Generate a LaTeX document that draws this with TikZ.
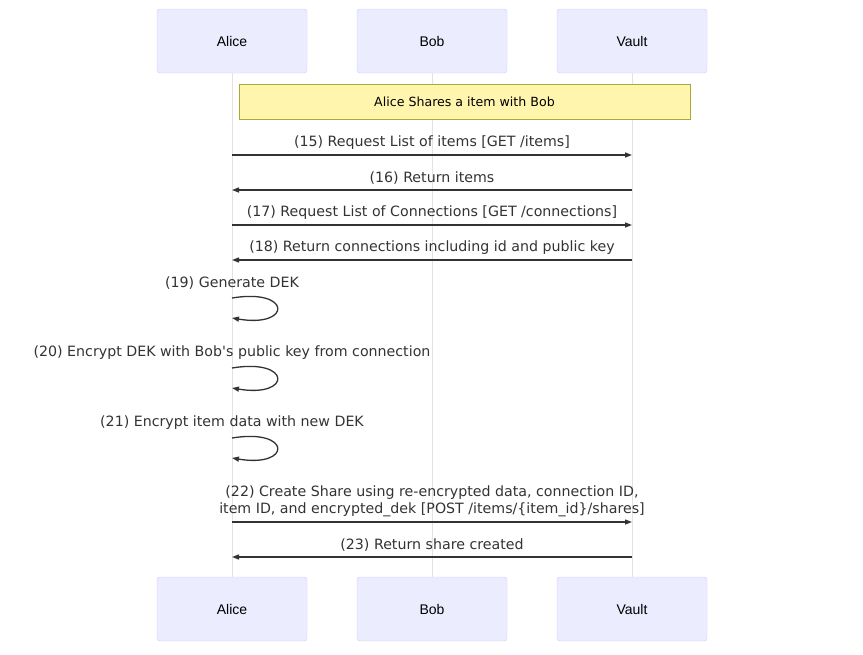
\documentclass[tikz,border=0pt]{standalone}
\usepackage{fontspec}
\setmainfont{DejaVu Sans}
\newfontfamily\actorfont{Liberation Sans}
\usetikzlibrary{arrows.meta}
\definecolor{actorfill}{HTML}{ECECFF}
\definecolor{actorline}{HTML}{CCCCFF}
\definecolor{notefill}{HTML}{FFF5AD}
\definecolor{noteline}{HTML}{AAAA33}
\definecolor{msgcol}{HTML}{333333}
\definecolor{lifecol}{HTML}{E2E2E2}

\begin{document}
\begin{tikzpicture}[x=1pt,y=-1pt]
	\useasboundingbox (0,0) rectangle (863,654);
	\begin{scope}[every node/.style={draw=actorline,fill=actorfill,rounded corners=3pt,
		minimum width=150pt,minimum height=64pt,font=\actorfont\fontsize{14}{16}\selectfont}]
		\node (At) at (232,41) {Alice};
		\node (Bt) at (432,41) {Bob};
		\node (Vt) at (632,41) {Vault};
		\node (Ab) at (232,609) {Alice};
		\node (Bb) at (432,609) {Bob};
		\node (Vb) at (632,609) {Vault};
	\end{scope}

	\begin{scope}[lifecol,line width=1pt]
		\draw (At) -- (Ab);
		\draw (Bt) -- (Bb);
		\draw (Vt) -- (Vb);
	\end{scope}

	\node[draw=noteline,fill=notefill,minimum width=451pt,minimum height=35pt,
		font=\fontsize{12.6}{15}\selectfont] (note) at (464.5,101.5) {Alice Shares a item with Bob};

	% message end points on the lifelines
	\foreach \n/\y in {15/155,16/190,17/225,18/260,22/522,23/557} {
		\coordinate (A\n) at (232,\y);
		\coordinate (V\n) at (632,\y);
	}
	\foreach \n/\y in {19/298,20/368,21/438} {
		\coordinate (S\n) at (232,\y);
		\coordinate (E\n) at (232,\y+20);
	}

	\begin{scope}[>={Triangle[length=7pt,width=5pt]},
		every node/.style={font=\fontsize{14.2}{17}\selectfont,text=msgcol,inner sep=0pt},
		every edge/.style={draw=msgcol,line width=1.3pt}]
		\path [->] (A15) edge node[above=5pt] {(15) Request List of items [GET /items]} (V15);
		\path [->] (V16) edge node[above=5pt] {(16) Return items} (A16);
		\path [->] (A17) edge node[above=5pt] {(17) Request List of Connections [GET /connections]} (V17);
		\path [->] (V18) edge node[above=5pt] {(18) Return connections including id and public key} (A18);
		\draw [->,msgcol,line width=1.3pt] (S19) node[above=8pt] {(19) Generate DEK}
			.. controls +(60,-10) and +(60,10) .. (E19);
		\draw [->,msgcol,line width=1.3pt] (S20) node[above=8pt] {(20) Encrypt DEK with Bob\textquotesingle s public key from connection}
			.. controls +(60,-10) and +(60,10) .. (E20);
		\draw [->,msgcol,line width=1.3pt] (S21) node[above=8pt] {(21) Encrypt item data with new DEK}
			.. controls +(60,-10) and +(60,10) .. (E21);
		\path [->] (A22) edge node[above=5pt,align=center] {(22) Create Share using re-encrypted data, connection ID,\\item ID, and encrypted\_dek [POST /items/\{item\_id\}/shares]} (V22);
		\path [->] (V23) edge node[above=5pt] {(23) Return share created} (A23);
	\end{scope}
\end{tikzpicture}
\end{document}
